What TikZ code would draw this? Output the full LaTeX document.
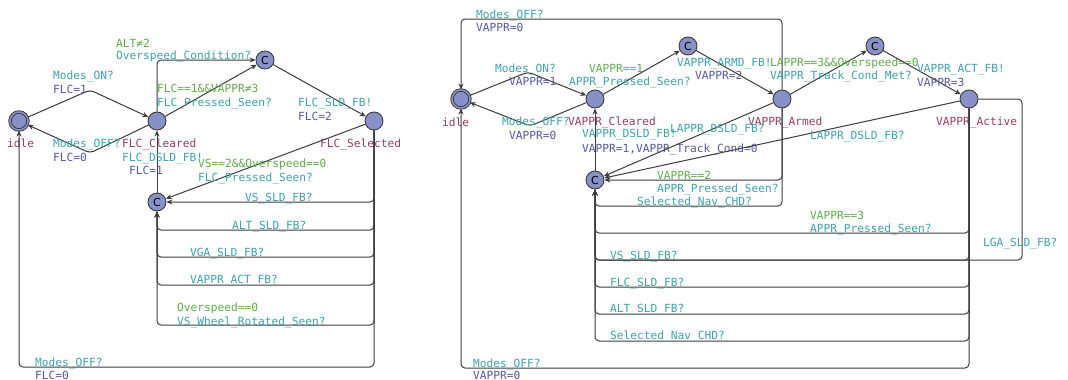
\documentclass[tikz,border=0pt]{standalone}
\usepackage{fontspec}
\setmonofont{DejaVu Sans Mono}
\setsansfont{DejaVu Sans}
\usepackage{tikz}
\usetikzlibrary{arrows.meta}

\definecolor{locname}{RGB}{150,60,100}
\definecolor{syncol}{RGB}{64,160,170}
\definecolor{asgcol}{RGB}{85,85,165}
\definecolor{grdcol}{RGB}{95,170,75}
\definecolor{locfill}{RGB}{135,145,200}
\definecolor{edgecol}{RGB}{60,60,60}

\begin{document}
\begin{tikzpicture}[x=1pt,y=-1pt,
  font=\fontsize{11.2}{13}\selectfont\ttfamily,
  loc/.style={circle,draw=edgecol,fill=locfill,minimum size=18pt,inner sep=0pt,
    line width=0.9pt,font=\fontsize{11}{11}\selectfont\sffamily},
  init/.style={loc,double=locfill,double distance=1.6pt},
  edge/.style={draw=edgecol,line width=1pt,rounded corners=4pt,
    -{Stealth[length=6pt,width=5pt]}},
  lbl/.style={anchor=base west,inner sep=0pt},
  nm/.style={lbl,text=locname},
  syn/.style={lbl,text=syncol},
  asg/.style={lbl,text=asgcol},
  grd/.style={lbl,text=grdcol}]
\useasboundingbox (0,0) rectangle (1068,380);

% FLC template
\node[init] (idle) at (19,121){};
\node[loc] (clr) at (157,121){};
\node[loc] (c1) at (265,60){C};
\node[loc] (sel) at (374,121){};
\node[loc] (c2) at (157,202){C};
\coordinate (n1) at (90,90);
\coordinate (n2) at (90,153);

\node[nm] (idleN) at (7,147){idle};
\node[nm] (clrN) at (122,147){FLC\_Cleared};
\node[nm] (selN) at (320,147){FLC\_Selected};

\draw[edge] (idle) -- (n1) -- (clr);
\node[syn] (s1) at (53,79){Modes\_ON?};
\node[asg] (a1) at (53,93){FLC=1};
\draw[edge] (clr) -- (n2) -- (idle);
\node[syn] (s2) at (53,147){Modes\_OFF?};
\node[asg] (a2) at (53,161){FLC=0};
\draw[edge] (clr) |- (c1);
\node[grd] (g3) at (116,47){ALT≠2};
\node[syn] (s3) at (116,59){Overspeed\_Condition?};
\draw[edge] (clr) -- (c1);
\node[grd] (g4) at (157,92){FLC==1\&\&VAPPR≠3};
\node[syn] (s4) at (157,106){FLC\_Pressed\_Seen?};
\draw[edge] (c1) -- (sel);
\node[syn] (s5) at (298,106){FLC\_SLD\_FB!};
\node[asg] (a5) at (298,120){FLC=2};
\draw[edge] (c2) -- (clr);
\node[syn] (s6) at (122,161){FLC\_DSLD\_FB!};
\node[asg] (a6) at (129,174){FLC=1};
\draw[edge] (sel) -- (c2);
\node[grd] (g7) at (198,167){VS==2\&\&Overspeed==0};
\node[syn] (s7) at (198,181){FLC\_Pressed\_Seen?};
\draw[edge] (sel) |- (c2);
\node[syn] (s8) at (245,201){VS\_SLD\_FB?};
\draw[edge] (sel) -- (sel |- 0,230) -| (c2);
\node[syn] (s9) at (232,229){ALT\_SLD\_FB?};
\draw[edge] (sel) -- (sel |- 0,257) -| (c2);
\node[syn] (s10) at (190,256){VGA\_SLD\_FB?};
\draw[edge] (sel) -- (sel |- 0,285) -| (c2);
\node[syn] (s11) at (190,283){VAPPR\_ACT\_FB?};
\draw[edge] (sel) -- (sel |- 0,325) -| (c2);
\node[grd] (g12) at (177,311){Overspeed==0};
\node[syn] (s12) at (177,325){VS\_Wheel\_Rotated\_Seen?};
\draw[edge] (sel) -- (sel |- 0,367) -| (idle);
\node[syn] (s13) at (35,366){Modes\_OFF?};
\node[asg] (a13) at (35,379){FLC=0};

% VAPPR template
\node[init] (idle2) at (461,99){};
\node[loc] (clr2) at (595,99){};
\node[loc] (c3) at (688,46){C};
\node[loc] (arm) at (782,99){};
\node[loc] (c4) at (875,46){C};
\node[loc] (act) at (969,99){};
\node[loc] (c5) at (595,180){C};
\coordinate (n3) at (528,72);
\coordinate (n4) at (530,126);
\coordinate (lga) at (1022,260);

\node[nm] (idle2N) at (442,126){idle};
\node[nm] (clr2N) at (568,125){VAPPR\_Cleared};
\node[nm] (armN) at (748,125){VAPPR\_Armed};
\node[nm] (actN) at (936,125){VAPPR\_Active};

\draw[edge] (arm) -- (arm |- 0,19) -| (idle2);
\node[syn] (t1) at (476,18){Modes\_OFF?};
\node[asg] (b1) at (476,31){VAPPR=0};
\draw[edge] (idle2) -- (n3) -- (clr2);
\node[syn] (t2) at (495,72){Modes\_ON?};
\node[asg] (b2) at (509,85){VAPPR=1};
\draw[edge] (clr2) -- (n4) -- (idle2);
\node[syn] (t3) at (502,125){Modes\_OFF?};
\node[asg] (b3) at (509,139){VAPPR=0};
\draw[edge] (clr2) -- (c3);
\node[grd] (h4) at (589,72){VAPPR==1};
\node[syn] (t4) at (569,85){APPR\_Pressed\_Seen?};
\draw[edge] (c3) -- (arm);
\node[syn] (t5) at (677,66){VAPPR\_ARMD\_FB!};
\node[asg] (b5) at (695,79){VAPPR=2};
\draw[edge] (arm) -- (c4);
\node[grd] (h6) at (770,66){LAPPR==3\&\&Overspeed==0};
\node[syn] (t6) at (770,79){VAPPR\_Track\_Cond\_Met?};
\draw[edge] (c4) -- (act);
\node[syn] (t7) at (917,72){VAPPR\_ACT\_FB!};
\node[asg] (b7) at (917,86){VAPPR=3};
\draw[edge] (c5) -- (clr2);
\node[syn] (t8) at (582,137){VAPPR\_DSLD\_FB!};
\node[asg] (b8) at (582,152){VAPPR=1,VAPPR\_Track\_Cond=0};
\draw[edge] (arm) -- (c5);
\node[syn] (t9) at (670,132){LAPPR\_DSLD\_FB?};
\draw[edge] (act) -- (c5);
\node[syn] (t10) at (810,139){LAPPR\_DSLD\_FB?};
\draw[edge] (arm) |- (c5);
\node[grd] (h11) at (657,179){VAPPR==2};
\node[syn] (t11) at (657,192){APPR\_Pressed\_Seen?};
\draw[edge] (arm) -- (arm |- 0,206) -| (c5);
\node[syn] (t12) at (637,205){Selected\_Nav\_CHD?};
\draw[edge] (act) -- (act |- 0,233) -| (c5);
\node[grd] (h13) at (810,219){VAPPR==3};
\node[syn] (t13) at (810,232){APPR\_Pressed\_Seen?};
\draw[edge] (act) -| (lga) -| (c5);
\node[syn] (t14) at (983,246){LGA\_SLD\_FB?};
\draw[edge] (act) -- (act |- 0,260) -| (c5);
\node[syn] (t15) at (610,259){VS\_SLD\_FB?};
\draw[edge] (act) -- (act |- 0,287) -| (c5);
\node[syn] (t16) at (610,286){FLC\_SLD\_FB?};
\draw[edge] (act) -- (act |- 0,314) -| (c5);
\node[syn] (t17) at (610,312){ALT\_SLD\_FB?};
\draw[edge] (act) -- (act |- 0,341) -| (c5);
\node[syn] (t18) at (610,339){Selected\_Nav\_CHD?};
\draw[edge] (act) -- (act |- 0,368) -| (idle2);
\node[syn] (t19) at (473,367){Modes\_OFF?};
\node[asg] (b19) at (473,379){VAPPR=0};
\end{tikzpicture}
\end{document}
